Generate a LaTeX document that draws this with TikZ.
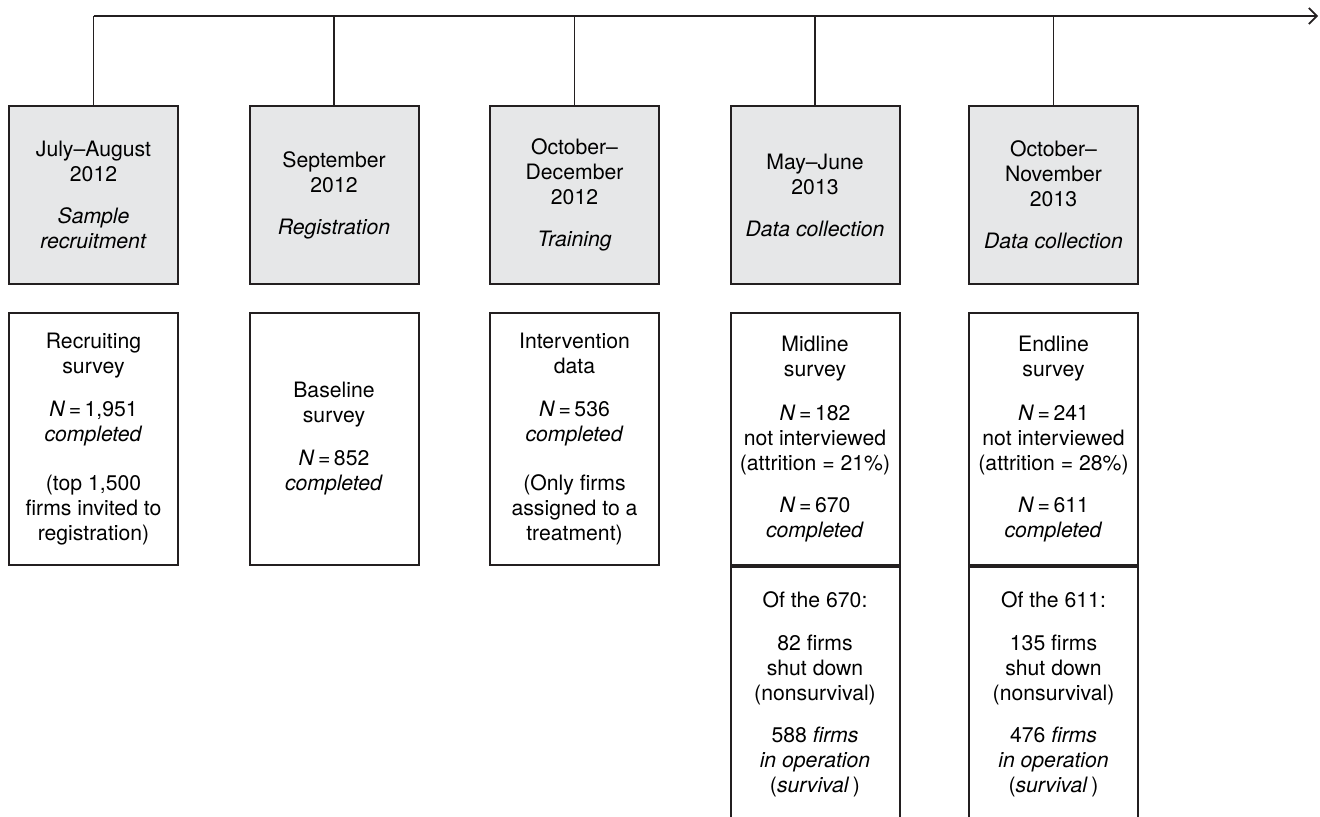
\documentclass[tikz,border=0pt]{standalone}
\usepackage{fontspec}
\setmainfont{TeX Gyre Heros}
\usetikzlibrary{arrows.meta, positioning}
\definecolor{boxgray}{HTML}{E6E7E8}
\definecolor{inkblack}{HTML}{231F20}
\tikzset{
  timebox/.style={draw=inkblack, line width=1pt, minimum width=84.5pt,
    align=center, inner sep=0pt, font=\fontsize{10.6}{12.5}\selectfont},
  topbox/.style={timebox, fill=boxgray, minimum height=89pt},
  surveybox/.style={timebox, minimum height=126pt},
  shutbox/.style={timebox, minimum height=127.5pt},
}

\begin{document}
\begin{tikzpicture}[x=0.5pt, y=-0.5pt]
  \useasboundingbox (0,0) rectangle (1320,816);
  % periods on the time line
  \node[topbox] (top1) at (93.5,195) {July--August\\2012\\[8.5pt]\textit{Sample}\\\textit{recruitment}};
  \node[topbox] (top2) at (334,195) {September\\2012\\[8.5pt]\textit{Registration}};
  \node[topbox] (top3) at (574.5,195) {October--\\December\\2012\\[8.5pt]\textit{Training}};
  \node[topbox] (top4) at (815,195) {May--June\\2013\\[8.5pt]\textit{Data collection}};
  \node[topbox] (top5) at (1053.5,195) {October--\\November\\2013\\[8.5pt]\textit{Data collection}};
  % surveys below each period
  \node[surveybox] (svy1) at (93.5,439) {Recruiting\\survey\\[9pt]\textit{N}\,=\,1,951\\\textit{completed}\\[12pt](top 1,500\\firms invited to\\registration)};
  \node[surveybox] (svy2) at (334,439) {Baseline\\survey\\[9pt]\textit{N}\,=\,852\\\textit{completed}};
  \node[surveybox] (svy3) at (574.5,439) {Intervention\\data\\[9pt]\textit{N}\,=\,536\\\textit{completed}\\[12pt](Only firms\\assigned to a\\treatment)};
  \node[surveybox] (svy4) at (815,439) {Midline\\survey\\[9.5pt]\textit{N}\,=\,182\\not interviewed\\(attrition = 21\%)\\[8.5pt]\textit{N}\,=\,670\\\textit{completed}};
  \node[surveybox] (svy5) at (1053.5,439) {Endline\\survey\\[9.5pt]\textit{N}\,=\,241\\not interviewed\\(attrition = 28\%)\\[8.5pt]\textit{N}\,=\,611\\\textit{completed}};
  % survival, runs off the page at the bottom
  \node[shutbox, below=0pt of svy4] (shut4) {Of the 670:\\[9pt]82 firms\\shut down\\(nonsurvival)\\[8.5pt]588 \textit{firms}\\\textit{in operation}\\(\textit{survival\/}\,)};
  \node[shutbox, below=0pt of svy5] (shut5) {Of the 611:\\[9pt]135 firms\\shut down\\(nonsurvival)\\[8.5pt]476 \textit{firms}\\\textit{in operation}\\(\textit{survival\/}\,)};
  % time line
  \coordinate (tl) at (93.5,16);
  \coordinate (tlend) at (1318,16);
  \foreach \i in {1,...,5}
    \draw[inkblack, line width=0.85pt] (top\i.north) -- (top\i.north |- tl);
  \draw[inkblack, line width=0.85pt, -{Straight Barb[length=4pt,width=8pt]}] (tl) -- (tlend);
\end{tikzpicture}
\end{document}
